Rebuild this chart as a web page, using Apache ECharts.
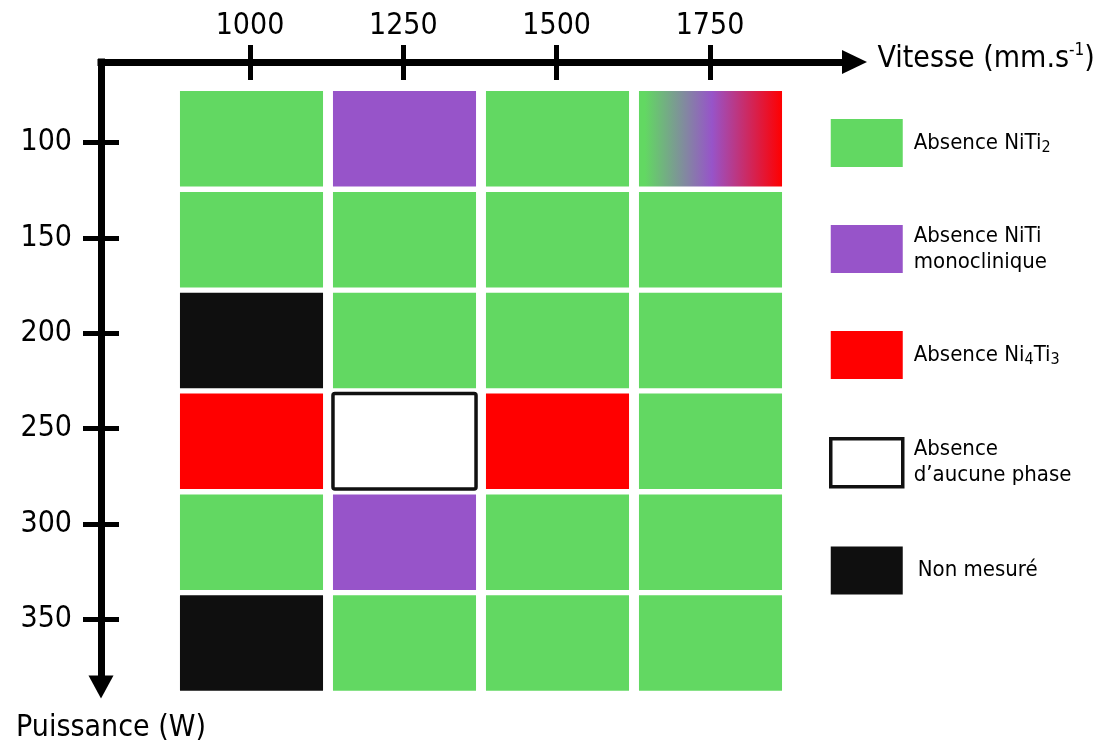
<!DOCTYPE html>
<html>
<head>
<meta charset="utf-8">
<script src="https://cdn.jsdelivr.net/npm/echarts@6/dist/echarts.min.js"></script>
<style>
html,body{margin:0;padding:0;background:#fff;}
#chart{width:1110px;height:743px;}
</style>
</head>
<body>
<div id="chart"></div>
<script>
// ---- data ----
const speedCategories = ['1000', '1250', '1500', '1750'];
const powerCategories = ['100', '150', '200', '250', '300', '350'];
const speedTicks = [1000, 1250, 1500, 1750];
const powerTicks = [100, 150, 200, 250, 300, 350];

const absenceNiTi2 = [
  ['1000', '100'], ['1500', '100'],
  ['1000', '150'], ['1250', '150'], ['1500', '150'], ['1750', '150'],
  ['1250', '200'], ['1500', '200'], ['1750', '200'],
  ['1750', '250'],
  ['1000', '300'], ['1500', '300'], ['1750', '300'],
  ['1250', '350'], ['1500', '350'], ['1750', '350']
];
const absenceNiTiMono = [['1250', '100'], ['1250', '300']];
const absenceNi4Ti3 = [['1000', '250'], ['1500', '250']];
const absenceAucune = [['1250', '250']];
const nonMesure = [['1000', '200'], ['1000', '350']];
const mixte = [['1750', '100']];

const legendNames = ['Absence NiTi2', 'Absence NiTi monoclinique', 'Absence Ni4Ti3', 'Absence d\u2019aucune phase', 'Non mesuré'];
const legendLabels = [
  '{t|Absence NiTi}{s|2}',
  '{t|Absence NiTi}\n{t|monoclinique}',
  '{t|Absence Ni}{s|4}{u|Ti}{s|3}',
  '{t|Absence}\n{t|d\u2019aucune phase}',
  '{n|Non mesuré}'
];

// ---- styles ----
const GREEN = '#62D862', PURPLE = '#9754C9', RED = '#FF0000', BLACK = '#0F0F0F';
const FONT = '"DejaVu Sans Condensed", "DejaVu Sans", sans-serif';

const chart = echarts.init(document.getElementById('chart'), null, {renderer: 'canvas'});

function renderCell(params, api) {
  const c = api.coord([api.value(0), api.value(1)]);
  const s = api.size([1, 1]);
  const w = s[0] * 0.935, h = s[1] * 0.947;
  const st = api.style();
  const bordered = st.lineWidth && st.stroke;
  return {
    type: 'rect',
    shape: {x: c[0] - w / 2, y: c[1] - h / 2, width: w, height: h, r: bordered ? 2 : 0},
    style: st
  };
}

function cellSeries(name, data, itemStyle) {
  return {
    type: 'custom', name: name, xAxisIndex: 0, yAxisIndex: 0,
    renderItem: renderCell, data: data, itemStyle: itemStyle,
    encode: {x: 0, y: 1}, silent: true
  };
}

const tickStyle = {color: '#000', width: 5};
const X_MIN = 757.1, X_MAX = 1985.6;
const Y_MIN = 57.8, Y_MAX = 385.5;
const plain = function (v) { return String(v); };

const option = {
  animation: false,
  backgroundColor: '#fff',
  textStyle: {fontFamily: FONT, color: '#000'},
  grid: [
    {left: 175, top: 88.4, width: 612, height: 605},
    {left: 101, top: 62, width: 753.5, height: 626.5}
  ],
  xAxis: [
    {type: 'category', gridIndex: 0, data: speedCategories, show: false},
    {
      type: 'value', gridIndex: 1, position: 'top', min: X_MIN, max: X_MAX,
      name: '{a|Vitesse (mm.s}{sup|-1}{a|)}', nameLocation: 'end', nameGap: 23,
      nameTextStyle: {
        rich: {
          a: {fontSize: 30, fontFamily: FONT, color: '#000', lineHeight: 34},
          sup: {fontSize: 17, fontFamily: FONT, color: '#000', lineHeight: 17, verticalAlign: 'top'}
        },
        padding: [0, 0, 6, 0]
      },
      axisLine: {show: true, symbol: ['none', 'triangle'], symbolSize: [24, 25],
        lineStyle: {color: '#000', width: 7, cap: 'square'}},
      axisTick: {show: true, inside: false, length: 17, lineStyle: tickStyle, customValues: speedTicks},
      axisLabel: {show: true, customValues: speedTicks, formatter: plain, fontSize: 30, color: '#000', margin: 21, fontFamily: FONT},
      splitLine: {show: false}
    },
    {
      type: 'value', gridIndex: 1, position: 'top', min: X_MIN, max: X_MAX,
      axisLine: {show: false},
      axisTick: {show: true, inside: true, length: 18, lineStyle: tickStyle, customValues: speedTicks},
      axisLabel: {show: false},
      splitLine: {show: false}
    }
  ],
  yAxis: [
    {type: 'category', gridIndex: 0, data: powerCategories, inverse: true, show: false},
    {
      type: 'value', gridIndex: 1, position: 'left', inverse: true, min: Y_MIN, max: Y_MAX,
      name: 'Puissance (W)', nameLocation: 'end', nameGap: 26,
      nameTextStyle: {fontSize: 30, color: '#000', fontFamily: FONT, align: 'center', verticalAlign: 'top', padding: [0, 0, 0, 20]},
      axisLine: {show: true, symbol: ['triangle', 'none'], symbolSize: [25, 23],
        lineStyle: {color: '#000', width: 7, cap: 'square'}},
      axisTick: {show: true, inside: false, length: 18, lineStyle: tickStyle, customValues: powerTicks},
      axisLabel: {show: true, customValues: powerTicks, formatter: plain, fontSize: 30, color: '#000', margin: 29, fontFamily: FONT},
      splitLine: {show: false}
    },
    {
      type: 'value', gridIndex: 1, position: 'left', inverse: true, min: Y_MIN, max: Y_MAX,
      axisLine: {show: false},
      axisTick: {show: true, inside: true, length: 18, lineStyle: tickStyle, customValues: powerTicks},
      axisLabel: {show: false},
      splitLine: {show: false}
    }
  ],
  legend: {
    orient: 'vertical', left: 824, top: 114,
    itemWidth: 72, itemHeight: 48, itemGap: 58,
    selectedMode: false,
    data: [
      {name: legendNames[0], icon: 'rect', itemStyle: {color: GREEN, borderWidth: 0}},
      {name: legendNames[1], icon: 'rect', itemStyle: {color: PURPLE, borderWidth: 0}},
      {name: legendNames[2], icon: 'rect', itemStyle: {color: RED, borderWidth: 0}},
      {name: legendNames[3], icon: 'rect', itemStyle: {color: '#fff', borderColor: '#111', borderWidth: 3.5}},
      {name: legendNames[4], icon: 'rect', itemStyle: {color: BLACK, borderWidth: 0}}
    ],
    formatter: function (name) { return legendLabels[legendNames.indexOf(name)]; },
    textStyle: {
      color: '#000', fontFamily: FONT,
      rich: {
        t: {fontSize: 22, lineHeight: 26, color: '#000', fontFamily: FONT, padding: [0, 0, 0, 6]},
        u: {fontSize: 22, lineHeight: 26, color: '#000', fontFamily: FONT},
        n: {fontSize: 22, lineHeight: 26, color: '#000', fontFamily: FONT, padding: [0, 0, 0, 10]},
        s: {fontSize: 16, lineHeight: 16, color: '#000', fontFamily: FONT, verticalAlign: 'bottom'}
      }
    }
  },
  series: [
    cellSeries(legendNames[0], absenceNiTi2, {color: GREEN}),
    cellSeries(legendNames[1], absenceNiTiMono, {color: PURPLE}),
    cellSeries(legendNames[2], absenceNi4Ti3, {color: RED}),
    cellSeries(legendNames[3], absenceAucune, {color: '#fff', borderColor: '#111', borderWidth: 3.5}),
    cellSeries(legendNames[4], nonMesure, {color: BLACK}),
    cellSeries('mixte', mixte, {
      color: {type: 'linear', x: 0, y: 0, x2: 1, y2: 0, colorStops: [
        {offset: 0, color: GREEN}, {offset: 0.04, color: GREEN},
        {offset: 0.51, color: PURPLE}, {offset: 1, color: RED}
      ]}
    })
  ]
};

chart.setOption(option);
</script>
</body>
</html>
